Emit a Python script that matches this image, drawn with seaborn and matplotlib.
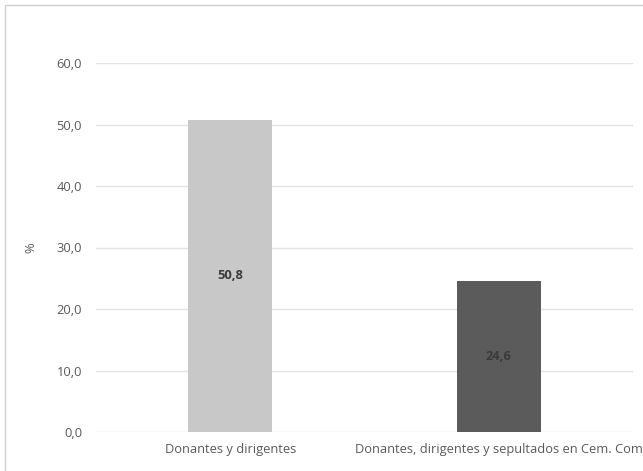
import matplotlib
matplotlib.use("Agg")
import matplotlib.pyplot as plt
import seaborn as sns
import pandas as pd
from matplotlib.patches import Rectangle

categorias = ["Donantes y dirigentes", "Donantes, dirigentes y sepultados en Cem. Com"]
valores = [50.8, 24.6]
colores = ["#c8c8c8", "#5b5b5b"]
ticks_y = [0, 10, 20, 30, 40, 50, 60]

df = pd.DataFrame({"categoria": categorias, "valor": valores})

sns.set_style("white")
plt.rcParams["font.family"] = ["Open Sans", "DejaVu Sans"]

fig = plt.figure(figsize=(6.43, 4.71), dpi=100)
ax = fig.add_axes([96 / 643, 39 / 471, 537 / 643, 369 / 471])

sns.barplot(data=df, x="categoria", y="valor", hue="categoria",
            palette=colores, width=0.313, legend=False, ax=ax, saturation=1,
            linewidth=0)

texto = "#595959"
ax.set_ylim(0, 60)
ax.set_xlim(-0.5, 1.5)
ax.set_yticks(ticks_y)
ax.set_yticklabels([f"{t:.1f}".replace(".", ",") for t in ticks_y], color=texto, fontsize=9.3)
ax.tick_params(axis="x", colors=texto, labelsize=9.3, length=0, pad=8)
ax.tick_params(axis="y", length=0, pad=10)
ax.yaxis.grid(True, color="#e3e3e3", linewidth=1)
ax.set_axisbelow(True)
for s in ax.spines.values():
    s.set_visible(False)
ax.set_xlabel("")
ax.set_ylabel("%", color=texto, fontsize=9.3, labelpad=14)

# etiquetas de valor dentro de las barras
for i, v in enumerate(valores):
    ax.text(i, v / 2, f"{v:.1f}".replace(".", ","), ha="center", va="center",
            fontsize=9.3, fontweight="bold", color="#3a3a3a")

# marco del grafico
fig.patches.append(Rectangle((5 / 643, -0.1), 1.2, (471 - 5) / 471 + 0.1,
                             transform=fig.transFigure, fill=False,
                             edgecolor="#d0d0d0", linewidth=1))

fig.savefig("out.png", dpi=100)
